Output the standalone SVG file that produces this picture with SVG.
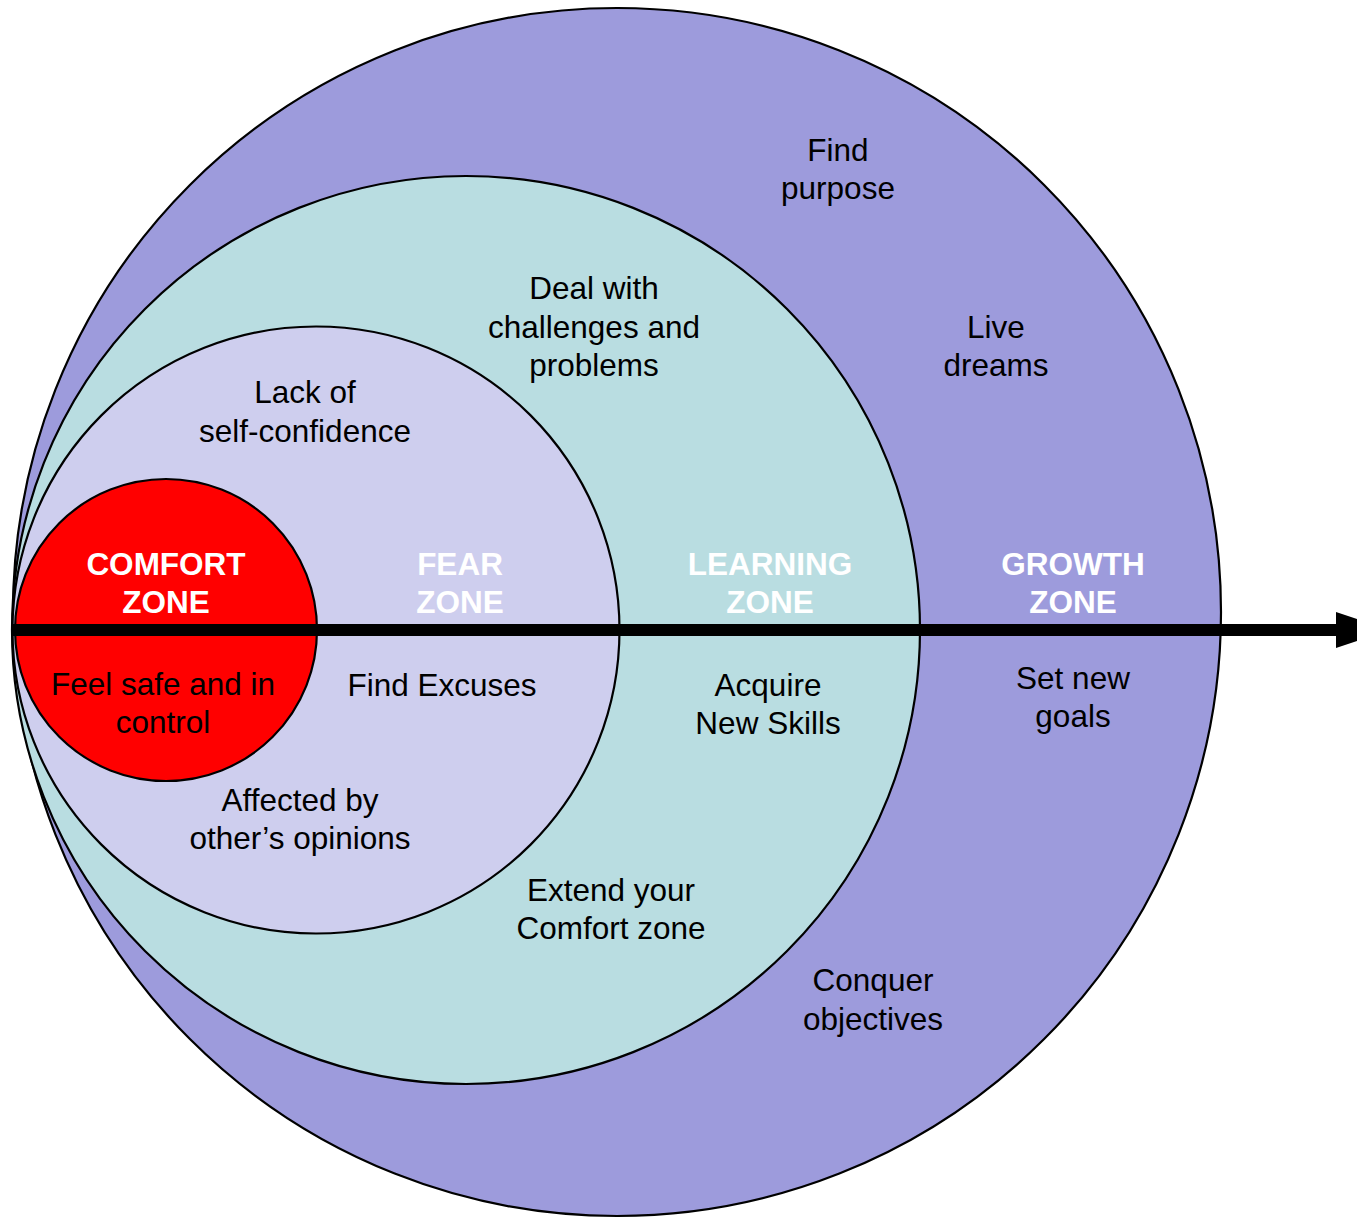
<svg xmlns="http://www.w3.org/2000/svg" width="1357" height="1218" viewBox="0 0 1357 1218">
  <style>
    .zone { stroke: #000; stroke-width: 2.2; }
    .lbl { font-family: "Liberation Sans", Arial, sans-serif; font-size: 31.5px; fill: #000; text-anchor: middle; }
    .title { font-family: "Liberation Sans", Arial, sans-serif; font-size: 31.5px; font-weight: bold; fill: #fff; text-anchor: middle; }
  </style>
  <rect width="1357" height="1218" fill="#fff"/>

  <!-- Growth zone (outermost) -->
  <g id="growth-zone">
    <circle class="zone" cx="617" cy="612" r="604" fill="#9D9BDC"/>
  </g>

  <!-- Learning zone -->
  <g id="learning-zone">
    <circle class="zone" cx="466" cy="630" r="454" fill="#B9DDE1"/>
  </g>

  <!-- Fear zone -->
  <g id="fear-zone">
    <circle class="zone" cx="316" cy="630" r="303.5" fill="#CECEEE"/>
  </g>

  <!-- Comfort zone -->
  <g id="comfort-zone">
    <circle class="zone" cx="166" cy="630" r="151" fill="#FF0000"/>
  </g>

  <!-- Horizontal axis arrow -->
  <g id="connectors">
    <rect x="12" y="624" width="1326" height="12" fill="#000"/>
    <polygon points="1336,612 1336,648 1390,630" fill="#000"/>
  </g>

  <!-- Zone titles -->
  <g id="titles">
    <text class="title" x="166" y="575">COMFORT</text>
    <text class="title" x="166" y="613">ZONE</text>
    <text class="title" x="460" y="575">FEAR</text>
    <text class="title" x="460" y="613">ZONE</text>
    <text class="title" x="770" y="575">LEARNING</text>
    <text class="title" x="770" y="613">ZONE</text>
    <text class="title" x="1073" y="575">GROWTH</text>
    <text class="title" x="1073" y="613">ZONE</text>
  </g>

  <!-- Descriptions -->
  <g id="comfort-notes">
    <text class="lbl" x="163" y="695">Feel safe and in</text>
    <text class="lbl" x="163" y="733">control</text>
  </g>
  <g id="fear-notes">
    <text class="lbl" x="305" y="403">Lack of</text>
    <text class="lbl" x="305" y="442">self-confidence</text>
    <text class="lbl" x="442" y="696">Find Excuses</text>
    <text class="lbl" x="300" y="811">Affected by</text>
    <text class="lbl" x="300" y="849">other’s opinions</text>
  </g>
  <g id="learning-notes">
    <text class="lbl" x="594" y="299">Deal with</text>
    <text class="lbl" x="594" y="338">challenges and</text>
    <text class="lbl" x="594" y="376">problems</text>
    <text class="lbl" x="768" y="696">Acquire</text>
    <text class="lbl" x="768" y="734">New Skills</text>
    <text class="lbl" x="611" y="901">Extend your</text>
    <text class="lbl" x="611" y="939">Comfort zone</text>
  </g>
  <g id="growth-notes">
    <text class="lbl" x="838" y="161">Find</text>
    <text class="lbl" x="838" y="199">purpose</text>
    <text class="lbl" x="996" y="338">Live</text>
    <text class="lbl" x="996" y="376">dreams</text>
    <text class="lbl" x="1073" y="689">Set new</text>
    <text class="lbl" x="1073" y="727">goals</text>
    <text class="lbl" x="873" y="991">Conquer</text>
    <text class="lbl" x="873" y="1030">objectives</text>
  </g>
</svg>
